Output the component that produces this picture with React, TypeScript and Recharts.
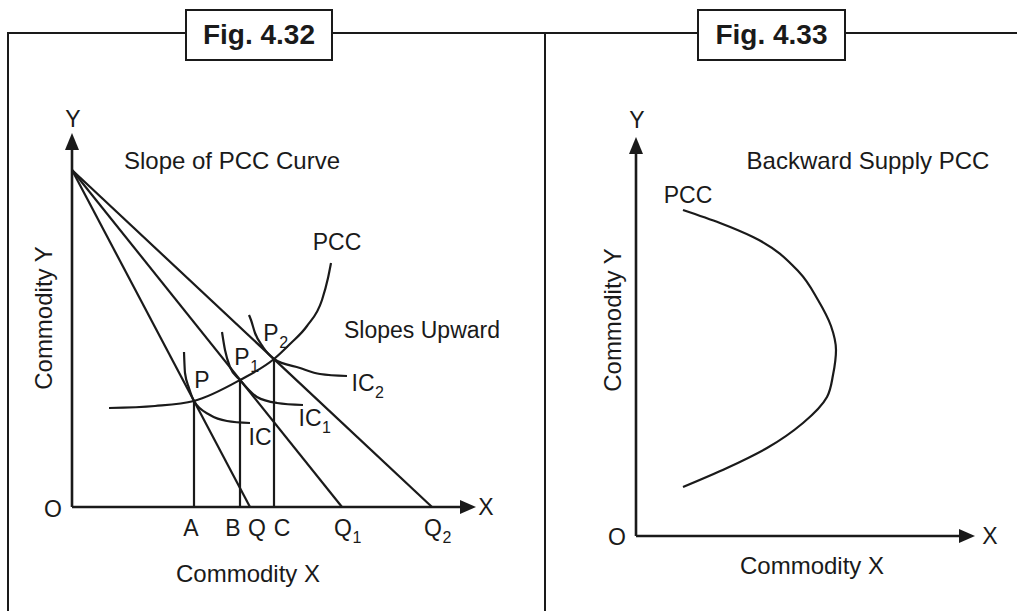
import React from 'react';
import { LineChart, Line, XAxis, YAxis, ReferenceDot } from 'recharts';

type Pt = { x: number; y: number };
type Note = { x: number; y: number; text: string; sub?: string; size?: number; rotate?: boolean };
type Tip = { x: number; y: number; dir: 'up' | 'right' };

const INK = '#1a1a1a';
const FONT = '"Liberation Sans", Arial, Helvetica, sans-serif';

// ---------- Fig. 4.32 : Slope of PCC curve (units: origin O = 0,0) ----------
const leftAxisX: Pt[] = [{ x: 0, y: 0 }, { x: 392, y: 0 }];
const leftAxisY: Pt[] = [{ x: 0, y: 0 }, { x: 0, y: 362 }];
const leftTips: Tip[] = [{ x: 404, y: 0, dir: 'right' }, { x: 0, y: 374, dir: 'up' }];

const budgetQ: Pt[] = [{ x: 0, y: 337 }, { x: 178, y: 0 }];
const budgetQ1: Pt[] = [{ x: 0, y: 337 }, { x: 270, y: 0 }];
const budgetQ2: Pt[] = [{ x: 0, y: 337 }, { x: 360, y: 0 }];

const dropA: Pt[] = [{ x: 122, y: 0 }, { x: 122, y: 106 }];
const dropB: Pt[] = [{ x: 168, y: 0 }, { x: 168, y: 127 }];
const dropC: Pt[] = [{ x: 202, y: 0 }, { x: 202, y: 148 }];

const pccLeft: Pt[] = [
  { x: 37, y: 99 }, { x: 83, y: 101 }, { x: 122, y: 106 }, { x: 168, y: 127 },
  { x: 202, y: 148 }, { x: 218, y: 163 }, { x: 235, y: 181 }, { x: 250, y: 207 },
  { x: 256, y: 229 }, { x: 259, y: 244 },
];
const ic0: Pt[] = [
  { x: 112, y: 155 }, { x: 113, y: 134 }, { x: 117, y: 119 }, { x: 122, y: 106 },
  { x: 138, y: 92 }, { x: 155, y: 86 }, { x: 178, y: 84 },
];
const ic1: Pt[] = [
  { x: 150, y: 175 }, { x: 153, y: 157 }, { x: 158, y: 140 }, { x: 168, y: 127 },
  { x: 185, y: 110 }, { x: 205, y: 104 }, { x: 231, y: 102 },
];
const ic2: Pt[] = [
  { x: 177, y: 192 }, { x: 179, y: 187 }, { x: 183, y: 174 }, { x: 191, y: 160 },
  { x: 202, y: 148 }, { x: 228, y: 139 }, { x: 248, y: 133 }, { x: 275, y: 131 },
];

const leftNotes: Note[] = [
  { x: 1, y: 388, text: 'Y' },
  { x: -19, y: -2, text: 'O' },
  { x: 414, y: 0, text: 'X' },
  { x: 160, y: 347, text: 'Slope of PCC Curve', size: 24 },
  { x: 265, y: 265, text: 'PCC' },
  { x: 350, y: 177, text: 'Slopes Upward', size: 23 },
  { x: 130, y: 127, text: 'P' },
  { x: 170, y: 150, text: 'P', sub: '1' },
  { x: 199, y: 174, text: 'P', sub: '2' },
  { x: 188, y: 70, text: 'IC' },
  { x: 238, y: 89, text: 'IC', sub: '1' },
  { x: 291, y: 124, text: 'IC', sub: '2' },
  { x: 176, y: -66, text: 'Commodity X', size: 24 },
  { x: -29, y: 189, text: 'Commodity Y', size: 24, rotate: true },
];
const leftTickLabels: Note[] = [
  { x: 119, y: -21, text: 'A' },
  { x: 161, y: -21, text: 'B' },
  { x: 185, y: -21, text: 'Q' },
  { x: 210, y: -21, text: 'C' },
  { x: 271, y: -21, text: 'Q', sub: '1' },
  { x: 361, y: -21, text: 'Q', sub: '2' },
];

// ---------- Fig. 4.33 : Backward supply PCC ----------
const rightAxisX: Pt[] = [{ x: 0, y: 0 }, { x: 327, y: 0 }];
const rightAxisY: Pt[] = [{ x: 0, y: 0 }, { x: 0, y: 387 }];
const rightTips: Tip[] = [{ x: 339, y: 0, dir: 'right' }, { x: 0, y: 399, dir: 'up' }];

const pccBackward: Pt[] = [
  { x: 47, y: 326 }, { x: 84, y: 313 }, { x: 117, y: 299 }, { x: 163, y: 264 },
  { x: 182, y: 236 }, { x: 195, y: 210 }, { x: 200, y: 186 },
  { x: 197, y: 161 }, { x: 191, y: 139 }, { x: 167, y: 113 }, { x: 131, y: 88 },
  { x: 91, y: 68 }, { x: 47, y: 49 },
];

const rightNotes: Note[] = [
  { x: 1, y: 416, text: 'Y' },
  { x: -19, y: -1, text: 'O' },
  { x: 354, y: 0, text: 'X' },
  { x: 52, y: 341, text: 'PCC' },
  { x: 232, y: 376, text: 'Backward Supply PCC', size: 24 },
  { x: 176, y: -29, text: 'Commodity X', size: 24 },
  { x: -24, y: 216, text: 'Commodity Y', size: 24, rotate: true },
];

const CHAR_W: Record<string, number> = { P: 0.667, Q: 0.778, I: 0.278, C: 0.722 };
const textWidth = (s: string, size: number) =>
  s.split('').reduce((a, c) => a + (CHAR_W[c] ?? 0.6), 0) * size;

const noteShape = (n: Note) => (props: any) => {
  const { cx, cy } = props;
  const size = n.size ?? 23;
  if (n.sub) {
    const half = textWidth(n.text, size) / 2;
    return (
      <g>
        <text x={cx} y={cy} textAnchor="middle" dominantBaseline="central" fontSize={size} fill={INK} fontFamily={FONT}>
          {n.text}
        </text>
        <text x={cx + half + 0.5} y={cy + 9} textAnchor="start" dominantBaseline="central" fontSize={16} fill={INK} fontFamily={FONT}>
          {n.sub}
        </text>
      </g>
    );
  }
  return (
    <text
      x={cx}
      y={cy}
      textAnchor="middle"
      dominantBaseline="central"
      fontSize={size}
      fill={INK}
      fontFamily={FONT}
      transform={n.rotate ? `rotate(-90 ${cx} ${cy})` : undefined}
    >
      {n.text}
    </text>
  );
};

const tipShape = (t: Tip) => (props: any) => {
  const { cx, cy } = props;
  const pts =
    t.dir === 'up'
      ? `${cx},${cy} ${cx - 7},${cy + 17} ${cx + 7},${cy + 17}`
      : `${cx},${cy} ${cx - 16},${cy - 7} ${cx - 16},${cy + 7}`;
  return <polygon points={pts} fill={INK} stroke="none" />;
};

const seg = (key: string, data: Pt[], type: any = 'linear', w = 2.2) => (
  <Line
    key={key}
    data={data}
    dataKey="y"
    type={type}
    stroke={INK}
    strokeWidth={w}
    dot={false}
    activeDot={false}
    isAnimationActive={false}
    legendType="none"
  />
);

const notes = (prefix: string, list: Note[]) =>
  list.map((n, i) => (
    <ReferenceDot key={`${prefix}${i}`} x={n.x} y={n.y} r={0} ifOverflow="visible" shape={noteShape(n)} />
  ));
const tips = (prefix: string, list: Tip[]) =>
  list.map((t, i) => (
    <ReferenceDot key={`${prefix}${i}`} x={t.x} y={t.y} r={0} ifOverflow="visible" shape={tipShape(t)} />
  ));

const FigBox = ({ left, width, label }: { left: number; width: number; label: string }) => (
  <div
    style={{
      position: 'absolute',
      left,
      top: 9,
      width,
      height: 52,
      boxSizing: 'border-box',
      border: `2px solid ${INK}`,
      background: '#fff',
      display: 'flex',
      alignItems: 'center',
      justifyContent: 'center',
      fontFamily: FONT,
      fontWeight: 'bold',
      fontSize: 28,
      color: INK,
    }}
  >
    {label}
  </div>
);

export default function App() {
  return (
    <div style={{ position: 'absolute', left: 0, top: 0, width: 1017, height: 611, background: '#fff', overflow: 'hidden' }}>
      {/* frame */}
      <div style={{ position: 'absolute', left: 8, top: 32, width: 1009, height: 2, background: INK }} />
      <div style={{ position: 'absolute', left: 7, top: 32, width: 2, height: 579, background: INK }} />
      <div style={{ position: 'absolute', left: 544, top: 32, width: 2, height: 579, background: INK }} />
      <FigBox left={185} width={148} label="Fig. 4.32" />
      <FigBox left={697} width={149} label="Fig. 4.33" />

      <div style={{ position: 'absolute', left: 0, top: 0 }}>
        <LineChart width={545} height={611} margin={{ top: 133, right: 69, bottom: 104, left: 72 }}>
          <XAxis type="number" dataKey="x" domain={[0, 404]} hide />
          <YAxis type="number" dataKey="y" domain={[0, 374]} hide />
          {seg('ax', leftAxisX, 'linear', 2.6)}
          {seg('ay', leftAxisY, 'linear', 2.6)}
          {seg('bq', budgetQ)}
          {seg('bq1', budgetQ1)}
          {seg('bq2', budgetQ2)}
          {seg('da', dropA)}
          {seg('db', dropB)}
          {seg('dc', dropC)}
          {seg('pcc', pccLeft, 'monotone')}
          {seg('ic0', ic0, 'monotone')}
          {seg('ic1', ic1, 'monotone')}
          {seg('ic2', ic2, 'monotone')}
          {tips('lt', leftTips)}
          {notes('ln', leftNotes)}
          {notes('lk', leftTickLabels)}
        </LineChart>
      </div>

      <div style={{ position: 'absolute', left: 545, top: 0 }}>
        <LineChart width={472} height={611} margin={{ top: 137, right: 42, bottom: 75, left: 91 }}>
          <XAxis type="number" dataKey="x" domain={[0, 339]} hide />
          <YAxis type="number" dataKey="y" domain={[0, 399]} hide />
          {seg('rax', rightAxisX, 'linear', 2.6)}
          {seg('ray', rightAxisY, 'linear', 2.6)}
          {seg('rpcc', pccBackward, 'monotoneY')}
          {tips('rt', rightTips)}
          {notes('rn', rightNotes)}
        </LineChart>
      </div>
    </div>
  );
}
